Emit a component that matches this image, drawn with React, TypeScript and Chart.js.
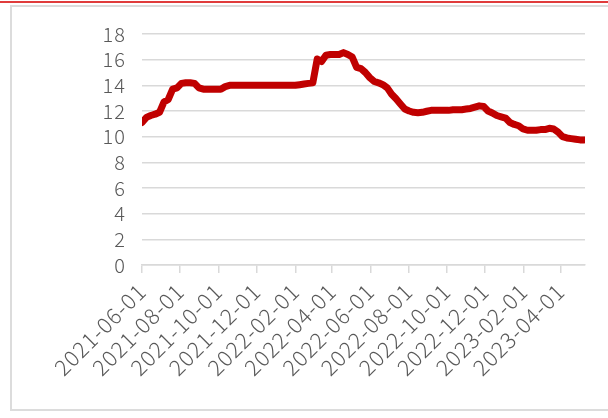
import React, { useEffect, useRef } from "react";
import { Chart, registerables } from "chart.js";

Chart.register(...registerables);

const startDate = "2021-06-01";
const stepDays = 7;
const endDate = "2023-05-10";

const values: number[] = [
  11.1, 11.5, 11.65, 11.75, 11.9, 12.7, 12.9, 13.7, 13.8, 14.15,
  14.2, 14.2, 14.15, 13.8, 13.7, 13.7, 13.7, 13.7, 13.7, 13.9,
  14.0, 14.0, 14.0, 14.0, 14.0, 14.0, 14.0, 14.0, 14.0, 14.0,
  14.0, 14.0, 14.0, 14.0, 14.0, 14.0, 14.05, 14.1, 14.15, 14.2,
  16.05, 15.85, 16.35, 16.4, 16.4, 16.4, 16.55, 16.4, 16.2, 15.4,
  15.3, 15.0, 14.6, 14.3, 14.2, 14.05, 13.8, 13.3, 12.95, 12.55,
  12.15, 12.0, 11.9, 11.87, 11.9, 11.98, 12.05, 12.05, 12.05, 12.05,
  12.05, 12.1, 12.1, 12.1, 12.15, 12.2, 12.3, 12.4, 12.35, 12.0,
  11.85, 11.65, 11.55, 11.45, 11.1, 10.95, 10.85, 10.6, 10.5, 10.5,
  10.5, 10.55, 10.55, 10.65, 10.6, 10.35, 10.0, 9.9, 9.85, 9.8,
  9.75, 9.75,
];

const tickLabels: string[] = [
  "2021-06-01", "2021-08-01", "2021-10-01", "2021-12-01",
  "2022-02-01", "2022-04-01", "2022-06-01", "2022-08-01",
  "2022-10-01", "2022-12-01", "2023-02-01", "2023-04-01",
];

const yMin = 0;
const yMax = 18;
const yStep = 2;

const DAY = 86400000;
const toDay = (s: string) => (Date.parse(s + "T00:00:00Z") - Date.parse(startDate + "T00:00:00Z")) / DAY;

const spacingPlugin = {
  id: "letterSpacing",
  beforeDraw: (chart: any) => {
    (chart.ctx as any).letterSpacing = "1px";
  },
  afterDraw: (chart: any) => {
    (chart.ctx as any).letterSpacing = "0px";
  },
};

export default function App() {
  const ref = useRef<HTMLCanvasElement | null>(null);

  useEffect(() => {
    document.body.style.margin = "0";
    if (!ref.current) return;
    const points = values.map((v, i) => ({ x: i * stepDays, y: v }));
    const tickDays = tickLabels.map(toDay);
    const labelFor = new Map<number, string>();
    tickLabels.forEach((l, i) => labelFor.set(tickDays[i], l));
    const textColor = "#595959";
    const family = "'Noto Sans CJK SC', sans-serif";

    const chart = new Chart(ref.current, {
      type: "line",
      data: {
        datasets: [
          {
            data: points,
            borderColor: "#c00000",
            borderWidth: 7,
            pointRadius: 0,
            borderJoinStyle: "round",
            borderCapStyle: "round",
            tension: 0,
            fill: false,
          },
        ],
      },
      options: {
        animation: false,
        responsive: false,
        devicePixelRatio: 1,
        layout: { padding: { top: 34, right: 23, left: 0, bottom: 0 } },
        plugins: { legend: { display: false }, tooltip: { enabled: false } },
        scales: {
          x: {
            type: "linear",
            min: 0,
            max: toDay(endDate),
            afterBuildTicks: (s: any) => {
              s.ticks = tickDays.map((d) => ({ value: d }));
            },
            afterFit: (s: any) => {
              s.height = 153;
            },
            ticks: {
              autoSkip: false,
              minRotation: 45,
              maxRotation: 45,
              padding: 5,
              color: textColor,
              font: { family, size: 22, weight: "300" },
              callback: (v: any) => labelFor.get(Number(v)) ?? "",
            },
            grid: {
              drawOnChartArea: false,
              drawTicks: true,
              tickLength: 8,
              color: "#d9d9d9",
              lineWidth: 1.5,
            },
            border: { display: true, color: "#d9d9d9", width: 1.5 },
          },
          y: {
            min: yMin,
            max: yMax,
            afterFit: (s: any) => {
              s.width = 142;
            },
            ticks: {
              stepSize: yStep,
              autoSkip: false,
              padding: 16,
              color: textColor,
              font: { family, size: 20, weight: "300" },
            },
            grid: { drawTicks: false, color: "#d9d9d9", lineWidth: 1.5 },
            border: { display: false },
          },
        },
      },
      plugins: [spacingPlugin],
    });
    return () => chart.destroy();
  }, []);

  return (
    <div style={{ position: "relative", width: 608, height: 418, overflow: "hidden", background: "#fff" }}>
      <div style={{ position: "absolute", left: 0, top: 1, width: 608, height: 2, background: "#e03c3c" }} />
      <div
        style={{
          position: "absolute",
          left: 10,
          top: 5,
          width: 640,
          height: 406,
          border: "2px solid #dcdcdc",
          boxSizing: "border-box",
        }}
      />
      <canvas ref={ref} width={608} height={418} style={{ position: "absolute", left: 0, top: 0 }} />
    </div>
  );
}
